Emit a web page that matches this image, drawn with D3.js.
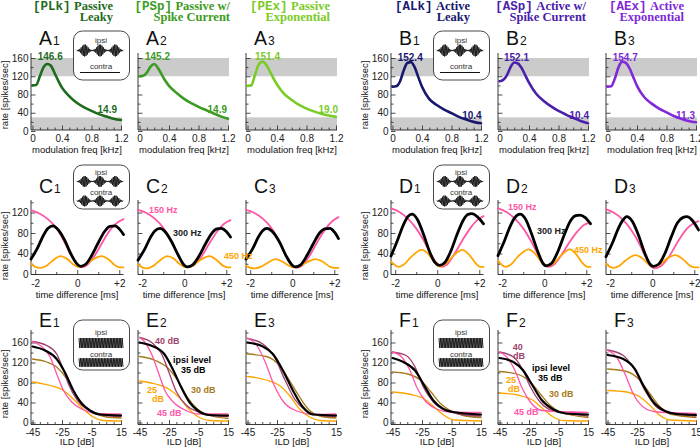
<!DOCTYPE html>
<meta charset="utf-8">
<style>
body { margin: 0; background: #fff; }
svg { display: block; }
</style>
<body>
<script src="https://d3js.org/d3.v7.min.js"></script>
<script>

var width = 700, height = 448;

// ---------- top row: rate vs modulation frequency ----------
var freqKHz = [0, 0.05, 0.1, 0.15, 0.2, 0.25, 0.3, 0.35, 0.4, 0.5, 0.6, 0.7, 0.8, 0.9, 1.0, 1.1, 1.2];
var rateA1 = [100, 101, 120, 140, 147, 143, 127, 110, 95, 76, 62, 52, 44, 37, 32, 27, 24];
var rateA2 = [120, 121, 128, 141, 147, 138, 124, 110, 99, 84, 71, 61, 53, 46, 39, 32, 27];
var rateA3 = [99, 100, 122, 145, 152, 146, 132, 116, 102, 81, 68, 57, 49, 43, 38, 34, 31];
var rateB1 = [97, 98, 108, 132, 149, 151, 140, 118, 97, 70, 57, 47, 39, 31, 25, 20, 17];
var rateB2 = [109, 112, 122, 140, 150, 148, 138, 122, 106, 81, 66, 54, 44, 36, 29, 22, 17];
var rateB3 = [97, 98, 115, 140, 152, 149, 137, 118, 99, 74, 60, 49, 41, 33, 27, 22, 19];
var targetBands = [[120, 160], [0, 30]];

var titleCodes = ["[PLk]", "[PSp]", "[PEx]", "[ALk]", "[ASp]", "[AEx]"];
var titleLine1 = ["Passive", "Passive w/", "Passive", "Active", "Active w/", "Active"];
var titleLine2 = ["Leaky", "Spike Current", "Exponential", "Leaky", "Spike Current", "Exponential"];
var peakLabels = ["146.6", "145.2", "151.4", "152.4", "152.1", "154.7"];
var endLabels = ["14.9", "14.9", "19.0", "10.4", "10.4", "11.3"];
var modelColors = ["#1e6b1e", "#3c9b22", "#7acb26", "#17176e", "#4a20aa", "#8029d8"];

// ---------- middle row: rate vs time difference [ms, rate] ----------
var c1_150 = [[-2.2,124],[-1.8,118],[-1.4,107],[-1.0,90],[-0.6,62],[-0.3,37],[0,19],[0.2,13],[0.45,17],[0.8,34],[1.2,62],[1.6,88],[1.9,100],[2.2,107]];
var c1_300 = [[-2.2,29],[-1.9,50],[-1.6,76],[-1.4,89],[-1.15,94],[-0.9,86],[-0.6,66],[-0.3,39],[0,19],[0.15,15],[0.4,19],[0.7,37],[1.0,61],[1.3,83],[1.55,93],[1.8,94],[2.0,88],[2.2,77]];
var c1_450 = [[-2.2,20],[-2.0,14],[-1.75,12],[-1.5,15],[-1.2,25],[-0.8,35],[-0.5,30],[-0.2,19],[0.05,14],[0.35,17],[0.7,27],[1.15,35],[1.5,28],[1.8,17],[2.0,13],[2.2,13]];
var c2_150 = [[-2.2,125],[-1.8,119],[-1.4,108],[-1.0,90],[-0.6,62],[-0.3,37],[0,18],[0.15,13],[0.4,16],[0.8,33],[1.2,60],[1.6,85],[1.9,98],[2.2,105]];
var c2_300 = [[-2.2,27],[-1.9,47],[-1.6,72],[-1.4,84],[-1.15,89],[-0.9,82],[-0.6,63],[-0.3,38],[0,17],[0.15,14],[0.4,18],[0.7,35],[1.0,58],[1.3,79],[1.55,88],[1.75,89],[2.0,83],[2.2,72]];
var c2_450 = [[-2.2,19],[-2.0,13],[-1.8,11],[-1.5,15],[-1.2,25],[-0.8,35],[-0.5,30],[-0.2,19],[0.1,13],[0.4,16],[0.75,27],[1.2,35],[1.55,27],[1.85,16],[2.05,13],[2.2,13]];
var c3_150 = [[-2.2,125],[-1.8,119],[-1.4,108],[-1.0,90],[-0.6,62],[-0.3,36],[0,17],[0.2,12],[0.45,16],[0.8,34],[1.2,63],[1.6,89],[1.9,103],[2.2,111]];
var c3_300 = [[-2.2,29],[-1.9,48],[-1.6,73],[-1.4,85],[-1.2,89],[-0.95,83],[-0.6,62],[-0.3,36],[0,17],[0.15,14],[0.4,18],[0.7,36],[1.0,59],[1.3,80],[1.55,88],[1.8,89],[2.0,82],[2.2,69]];
var c3_450 = [[-2.2,16],[-2.0,12],[-1.8,11],[-1.5,14],[-1.2,21],[-0.8,29],[-0.5,25],[-0.2,17],[0.05,13],[0.35,15],[0.7,23],[1.1,29],[1.45,24],[1.8,14],[2.0,12],[2.2,12]];
var d1_150 = [[-2.2,128],[-1.8,121],[-1.4,108],[-1.0,89],[-0.6,62],[-0.3,38],[0,20],[0.2,14],[0.45,18],[0.8,38],[1.2,66],[1.6,91],[1.9,105],[2.2,113]];
var d1_300 = [[-2.2,35],[-1.9,65],[-1.6,97],[-1.4,112],[-1.2,117],[-0.95,107],[-0.65,77],[-0.35,42],[-0.1,22],[0.1,17],[0.35,22],[0.65,45],[0.95,78],[1.25,106],[1.45,116],[1.65,118],[1.9,112],[2.2,98]];
var d1_450 = [[-2.2,24],[-2.0,17],[-1.85,14],[-1.6,18],[-1.25,33],[-0.75,47],[-0.4,38],[-0.15,23],[0.1,15],[0.4,20],[0.75,35],[1.2,47],[1.55,36],[1.85,20],[2.05,14],[2.2,14]];
var d2_150 = [[-2.2,128],[-1.8,121],[-1.4,108],[-1.0,89],[-0.6,62],[-0.3,38],[0,19],[0.2,14],[0.45,18],[0.8,36],[1.2,62],[1.6,84],[1.9,96],[2.2,100]];
var d2_300 = [[-2.2,36],[-1.9,64],[-1.6,95],[-1.4,110],[-1.15,117],[-0.9,108],[-0.6,78],[-0.3,43],[-0.05,20],[0.1,16],[0.35,21],[0.65,44],[0.95,76],[1.25,104],[1.5,114],[1.7,115],[1.95,110],[2.2,98]];
var d2_450 = [[-2.2,26],[-2.0,17],[-1.85,14],[-1.6,18],[-1.25,34],[-0.75,48],[-0.4,38],[-0.1,22],[0.15,16],[0.45,21],[0.8,36],[1.22,48],[1.55,37],[1.85,20],[2.05,14],[2.2,14]];
var d3_150 = [[-2.2,126],[-1.8,119],[-1.4,106],[-1.0,86],[-0.6,58],[-0.35,36],[-0.1,16],[0.1,11],[0.4,15],[0.8,34],[1.2,62],[1.6,86],[1.9,97],[2.2,103]];
var d3_300 = [[-2.2,34],[-1.9,60],[-1.6,90],[-1.4,105],[-1.22,112],[-0.95,103],[-0.65,75],[-0.35,40],[-0.1,19],[0.05,15],[0.3,19],[0.6,40],[0.9,72],[1.2,100],[1.45,110],[1.65,112],[1.9,105],[2.2,86]];
var d3_450 = [[-2.2,20],[-2.0,14],[-1.85,12],[-1.6,15],[-1.25,27],[-0.8,37],[-0.45,30],[-0.15,18],[0.05,14],[0.35,18],[0.7,30],[1.1,37],[1.45,29],[1.8,16],[2.0,13],[2.2,13]];
var toneLabels = ["150 Hz", "300 Hz", "450 Hz"];
var toneColors = ["#ff55a5", "#000000", "#ffa500"];

// ---------- bottom row: rate vs ILD [dB, rate] ----------
var e1_25 = [[-45,81],[-39,78],[-33,74],[-24,64],[-17.3,47],[-10.6,27],[-3.8,11],[2.9,4],[15,3]];
var e1_30 = [[-45,127],[-35.4,121],[-28.6,111],[-21.8,87],[-16.2,57],[-9.4,31],[-1.5,17],[5,11],[15,9]];
var e1_35 = [[-45,152],[-36.5,144],[-28.6,127],[-23,100],[-17.3,64],[-11.6,38],[-6,24],[0.8,16],[15,14]];
var e1_40 = [[-45,162],[-35.4,154],[-28.6,137],[-25,113],[-20.5,76],[-14.5,44],[-7.2,25],[0,16],[15,12]];
var e1_45 = [[-45,162],[-38.8,152],[-33,131],[-28.6,97],[-24,64],[-18.4,41],[-11.6,27],[-3.8,19],[5,17],[15,17]];
var e2_25 = [[-45,83],[-34.2,77],[-25.1,67],[-18.4,51],[-11.6,27],[-3.7,9],[3,4],[15,3]];
var e2_30 = [[-45,132],[-34.2,124],[-25.1,107],[-18.4,81],[-12.6,51],[-5.8,27],[1,15],[15,8]];
var e2_35 = [[-45,160],[-37.2,154],[-28.2,137],[-22.5,107],[-16.8,71],[-11.2,41],[-5.5,24],[2.4,15],[15,14]];
var e2_40 = [[-45,170],[-36.8,160],[-30,137],[-25.5,104],[-19.9,61],[-13.1,34],[-5.1,21],[5,14],[15,12]];
var e2_45 = [[-45,170],[-42.4,164],[-36.8,137],[-32.3,101],[-27.8,64],[-22.1,41],[-14.2,25],[-5.1,17],[15,17]];
var e3_25 = [[-45,92],[-32.3,85],[-23.3,74],[-16.5,54],[-9.7,27],[-2.9,11],[4,4],[15,3]];
var e3_30 = [[-45,137],[-32.3,132],[-23.3,114],[-16.5,84],[-9.7,51],[-2.9,24],[4,13],[15,9]];
var e3_35 = [[-45,160],[-34.6,152],[-27.8,137],[-21,104],[-14.2,64],[-7.5,31],[-0.7,16],[15,14]];
var e3_40 = [[-45,168],[-34.6,157],[-26.7,131],[-19.9,87],[-13.1,47],[-5.1,23],[3,15],[15,12]];
var e3_45 = [[-45,169],[-38.6,154],[-33,121],[-27.3,77],[-20.5,41],[-11.6,23],[-0.3,16],[15,17]];
var f1_25 = [[-45,61],[-32.5,56],[-23.4,47],[-16.7,31],[-9.9,14],[-3.1,5],[15,3]];
var f1_30 = [[-45,101],[-34.7,97],[-25.7,84],[-18.9,61],[-12.1,37],[-5.3,23],[3,14],[15,10]];
var f1_35 = [[-45,129],[-37.6,121],[-29.7,104],[-24.1,77],[-17.3,44],[-10.6,27],[-3.8,21],[15,16]];
var f1_40 = [[-45,141],[-35.8,134],[-29.7,111],[-24.1,71],[-17.3,41],[-9.3,25],[0,17],[15,13]];
var f1_45 = [[-45,141],[-38.8,131],[-33.1,104],[-28.6,71],[-23,44],[-15,27],[-6,21],[15,20]];
var f2_25 = [[-45,59],[-31.1,54],[-22.1,44],[-15.3,27],[-8.5,11],[-1.7,4],[15,3]];
var f2_30 = [[-45,102],[-33.3,97],[-24.1,81],[-17.3,57],[-10.5,34],[-3.7,21],[15,10]];
var f2_35 = [[-45,129],[-35.6,121],[-28.9,104],[-23.2,77],[-16.4,45],[-8.5,26],[0,18],[15,16]];
var f2_40 = [[-45,141],[-35.6,131],[-29.5,107],[-24,71],[-17.5,41],[-8.5,23],[15,13]];
var f2_45 = [[-45,141],[-40.1,131],[-34.5,104],[-30,71],[-24.1,41],[-16.4,24],[15,20]];
var f3_25 = [[-45,64],[-32,61],[-22.9,51],[-16.1,34],[-9.3,14],[-2.5,5],[15,3]];
var f3_30 = [[-45,107],[-31.9,102],[-22.9,84],[-16.1,57],[-9.3,31],[-2.5,17],[15,10]];
var f3_35 = [[-45,135],[-34.3,127],[-26.4,107],[-20.7,74],[-13.9,41],[-6,23],[2,17],[15,15]];
var f3_40 = [[-45,145],[-34.3,134],[-26.4,104],[-19.6,64],[-12.8,34],[-4.9,21],[15,13]];
var f3_45 = [[-45,144],[-38.8,131],[-33.1,97],[-27.5,57],[-20.7,31],[-11.6,21],[15,18]];
var levelColors = {25: "#ffa500", 30: "#a67a1a", 35: "#000000", 40: "#9e3f6d", 45: "#ff55aa"};

// ---------- layout ----------
var panelX = [31, 138, 246, 391, 498, 606];
var panelNum = ["1", "2", "3", "1", "2", "3"];
var titleRight = [82, 92, 84, 79, 88, 78];
var sans = "Liberation Sans, Arial, sans-serif";
var serif = "Liberation Serif, Times New Roman, serif";
var mono = "Liberation Mono, Courier New, monospace";

var rows = {
  top: {xDom: [0, 1.2], xR: [1.5, 90], right: 91, yDom: [0, 160], yR: [131, 58], bottom: 130, top: 53,
        xMajor: [0, 0.4, 0.8, 1.2], xMinor: [0.1, 0.2, 0.3, 0.5, 0.6, 0.7, 0.9, 1.0, 1.1],
        yMajor: [0, 40, 80, 120, 160], yMinor: [20, 60, 100, 140], pad: 4.5,
        fmt: d => d === 0 ? "0" : d.toFixed(1), xTitle: "modulation freq [kHz]", xTitleY: 152.5, yTitleY: 95,
        letterY: 45, letters: ["A", "A", "A", "B", "B", "B"], box: [31, 80]},
  mid: {xDom: [-2.2, 2.2], xR: [0, 92.5], right: 92.5, yDom: [0, 120], yR: [274, 212.5], bottom: 274.5, top: 200,
        xMajor: [-2, 0, 2], xMinor: [-1, 1], yMajor: [0, 40, 80, 120], yMinor: [20, 60, 100, 140], pad: 5,
        fmt: d => d > 0 ? "+" + d : String(d), xTitle: "time difference [ms]", xTitleY: 297.5, yTitleY: 246,
        letterY: 193, letters: ["C", "C", "C", "D", "D", "D"], box: [165, 209]},
  bot: {xDom: [-45, 15], xR: [1.5, 90], right: 91, yDom: [0, 160], yR: [422.5, 342.5], bottom: 424.5, top: 330,
        xMajor: [-45, -25, -5, 15], xMinor: [-40, -35, -30, -20, -15, -10, 0, 5, 10],
        yMajor: [0, 40, 80, 120, 160], yMinor: [20, 60, 100, 140, 180], pad: 4,
        fmt: d => String(d), xTitle: "ILD [dB]", xTitleY: 445, yTitleY: 384,
        letterY: 327, letters: ["E", "E", "E", "F", "F", "F"], box: [320, 370]}
};

var svg = d3.select("body").append("svg")
    .attr("width", width)
    .attr("height", height)
    .attr("font-family", sans);

function scales(row, i) {
  var X0 = panelX[i];
  return {
    x: d3.scaleLinear().domain(row.xDom).range([X0 + row.xR[0], X0 + row.xR[1]]),
    y: d3.scaleLinear().domain(row.yDom).range(row.yR)
  };
}

function drawAxes(g, row, i, s) {
  var X0 = panelX[i];
  var first = (i === 0 || i === 3);

  var xMin = g.append("g").attr("transform", `translate(0,${row.bottom})`)
      .call(d3.axisBottom(s.x).tickValues(row.xMinor).tickSize(-2.5).tickFormat(""));
  var xMaj = g.append("g").attr("transform", `translate(0,${row.bottom})`)
      .call(d3.axisBottom(s.x).tickValues(row.xMajor).tickSize(-4.5).tickPadding(row.pad).tickFormat(row.fmt));
  var yMin = g.append("g").attr("transform", `translate(${X0},0)`)
      .call(d3.axisLeft(s.y).tickValues(row.yMinor.filter(v => s.y(v) >= row.top)).tickSize(-2.5).tickFormat(""));
  var yMaj = g.append("g").attr("transform", `translate(${X0},0)`)
      .call(d3.axisLeft(s.y).tickValues(row.yMajor).tickSize(-4.5).tickPadding(2.5)
        .tickFormat(first ? d => String(d) : ""));

  [xMin, xMaj, yMin, yMaj].forEach(a => {
    a.select(".domain").remove();
    a.attr("font-family", sans).attr("font-size", 10).attr("color", "#222");
    a.selectAll(".tick line").attr("stroke-width", 0.8);
  });

  g.append("line").attr("x1", X0).attr("x2", X0 + row.right)
      .attr("y1", row.bottom).attr("y2", row.bottom).attr("stroke", "#222").attr("stroke-width", 0.9);
  g.append("line").attr("x1", X0).attr("x2", X0)
      .attr("y1", row.bottom).attr("y2", row.top).attr("stroke", "#222").attr("stroke-width", 0.9);

  g.append("text").attr("x", X0 + 46).attr("y", row.xTitleY)
      .attr("text-anchor", "middle").attr("font-size", 9.5).attr("fill", "#111").text(row.xTitle);

  if (first) {
    g.append("text").attr("transform", `translate(${X0 - 23.5},${row.yTitleY}) rotate(-90)`)
        .attr("text-anchor", "middle").attr("font-size", 9.5).attr("fill", "#111").text("rate [spikes/sec]");
  }

  var lab = g.append("text").attr("x", X0 + 8).attr("y", row.letterY).attr("fill", "#111");
  lab.append("tspan").attr("font-size", 19.5).text(row.letters[i]);
  lab.append("tspan").attr("font-size", 12).attr("dx", 1).text(panelNum[i]);
}

// ---------- inset stimulus sketches ----------
function amWave(x1, x2, cy, amp) {
  var n = Math.round((x2 - x1) / 0.7);
  return d3.range(n + 1).map(k => {
    var u = k / n;
    var e = 0.1 + 0.9 * Math.pow((1 - Math.cos(6 * Math.PI * u)) / 2, 1.4);
    return [x1 + u * (x2 - x1), cy + (k % 2 ? 1 : -1) * amp * e];
  });
}

function toneBand(x1, x2, cy, amp) {
  var n = Math.round((x2 - x1) / 0.75);
  return d3.range(n + 1).map(k => [x1 + k * (x2 - x1) / n, cy + (k % 2 ? 1 : -1) * amp]);
}

var waveLine = d3.line();

function drawInset(g, row, i, kind) {
  var X0 = panelX[i];
  var y1 = row.box[0], y2 = row.box[1];
  g.append("rect").attr("x", X0 + 42.5).attr("y", y1).attr("width", 56).attr("height", y2 - y1)
      .attr("rx", 9).attr("fill", "#fff").attr("stroke", "#333").attr("stroke-width", 0.9);
  var ink = "#111";
  function lbl(t, y) {
    g.append("text").attr("x", X0 + 70).attr("y", y).attr("text-anchor", "middle")
        .attr("font-size", 8).attr("fill", "#333").text(t);
  }
  function wave(pts, w) {
    g.append("path").attr("d", waveLine(pts)).attr("fill", "none").attr("stroke", ink).attr("stroke-width", w);
  }
  if (kind === "top") {
    lbl("ipsi", y1 + 11.5);
    wave(amWave(X0 + 46, X0 + 92, y1 + 19.5, 6), 0.9);
    lbl("contra", y1 + 37.5);
    g.append("line").attr("x1", X0 + 49).attr("x2", X0 + 89).attr("y1", y1 + 41.5).attr("y2", y1 + 41.5)
        .attr("stroke", ink).attr("stroke-width", 1);
  } else if (kind === "mid") {
    lbl("ipsi", y1 + 9.5);
    wave(amWave(X0 + 46, X0 + 92, y1 + 16.5, 5.5), 0.9);
    lbl("contra", y1 + 29.5);
    wave(amWave(X0 + 46, X0 + 92, y1 + 36, 5.5), 0.9);
  } else {
    lbl("ipsi", y1 + 15);
    wave(toneBand(X0 + 48, X0 + 92, y1 + 23, 5), 0.9);
    lbl("contra", y1 + 36.5);
    wave(toneBand(X0 + 48, X0 + 92, y1 + 42.5, 4.3), 0.9);
  }
}

function curve(g, s, pts, color, w) {
  var line = d3.line().x(d => s.x(d[0])).y(d => s.y(d[1])).curve(d3.curveMonotoneX);
  g.append("path").datum(pts).attr("d", line)
      .attr("fill", "none").attr("stroke", color).attr("stroke-width", w)
      .attr("stroke-linejoin", "round").attr("stroke-linecap", "round");
}

// ---------- top row ----------
var topRates = [rateA1, rateA2, rateA3, rateB1, rateB2, rateB3];
topRates.forEach(function(rates, i) {
  var row = rows.top, s = scales(row, i), X0 = panelX[i];
  var g = svg.append("g");

  g.selectAll("rect.band").data(targetBands).enter().append("rect")
      .attr("x", X0).attr("width", row.right)
      .attr("y", d => s.y(d[1]))
      .attr("height", d => Math.min(row.bottom, s.y(d[0])) - s.y(d[1]))
      .attr("fill", "#cbcbcb");

  drawAxes(g, row, i, s);
  if (i === 0 || i === 3) drawInset(g, row, i, "top");

  curve(g, s, freqKHz.map((f, j) => [f, rates[j]]), modelColors[i], 2.6);

  // two-line model title, right aligned: mono code + serif name
  var c = modelColors[i], xr = X0 + titleRight[i];
  var name1 = g.append("text").attr("x", xr).attr("y", 9.5)
      .attr("text-anchor", "end").attr("fill", c).attr("font-weight", "bold").attr("font-size", 12.5)
      .attr("font-family", serif).text(titleLine1[i]);
  var w1 = name1.node().getComputedTextLength();
  g.append("text").attr("x", xr - w1 - 3.5).attr("y", 9.5)
      .attr("text-anchor", "end").attr("fill", c).attr("font-weight", "bold").attr("font-size", 12.5)
      .attr("font-family", mono).text(titleCodes[i]);
  g.append("text").attr("x", xr).attr("y", 20.5)
      .attr("text-anchor", "end").attr("fill", c).attr("font-weight", "bold").attr("font-size", 12.5)
      .attr("font-family", serif).text(titleLine2[i]);

  var active = i >= 3;
  var peakDx = [6.7, 7, 9, 6.7, 6, 6.7], endDx = [86, 89, 92, 90.7, 91, 89];
  g.append("text").attr("x", X0 + peakDx[i]).attr("y", active ? 61 : 59.5)
      .attr("fill", c).attr("font-weight", "bold").attr("font-size", 10).text(peakLabels[i]);
  g.append("text").attr("x", X0 + endDx[i]).attr("y", active ? 119 : 113).attr("text-anchor", "end")
      .attr("fill", c).attr("font-weight", "bold").attr("font-size", 10).text(endLabels[i]);
});

// ---------- middle row ----------
var midSets = [[c1_150, c1_300, c1_450], [c2_150, c2_300, c2_450], [c3_150, c3_300, c3_450],
               [d1_150, d1_300, d1_450], [d2_150, d2_300, d2_450], [d3_150, d3_300, d3_450]];
midSets.forEach(function(set, i) {
  var row = rows.mid, s = scales(row, i);
  var g = svg.append("g");
  drawAxes(g, row, i, s);
  if (i === 0 || i === 3) drawInset(g, row, i, "mid");
  curve(g, s, set[0], toneColors[0], 1.8);
  curve(g, s, set[2], toneColors[2], 1.8);
  curve(g, s, set[1], toneColors[1], 2.8);
});

// tone labels (panels C2 and D2)
var toneLabelPos = [[[149, 212.5], [173, 235.5], [224, 258.5]], [[508, 210], [537, 234], [574, 252.5]]];
toneLabelPos.forEach(function(pos) {
  pos.forEach(function(p, k) {
    svg.append("text").attr("x", p[0]).attr("y", p[1]).attr("fill", k === 1 ? "#222" : toneColors[k])
        .attr("font-weight", "bold").attr("font-size", 9).text(toneLabels[k]);
  });
});

// ---------- bottom row ----------
var botSets = [[e1_25, e1_30, e1_40, e1_45, e1_35], [e2_25, e2_30, e2_40, e2_45, e2_35], [e3_25, e3_30, e3_40, e3_45, e3_35],
               [f1_25, f1_30, f1_40, f1_45, f1_35], [f2_25, f2_30, f2_40, f2_45, f2_35], [f3_25, f3_30, f3_40, f3_45, f3_35]];
var botLevels = [25, 30, 40, 45, 35];
botSets.forEach(function(set, i) {
  var row = rows.bot, s = scales(row, i);
  var g = svg.append("g");
  drawAxes(g, row, i, s);
  if (i === 0 || i === 3) drawInset(g, row, i, "bot");
  set.forEach(function(pts, k) {
    var lv = botLevels[k];
    curve(g, s, pts, levelColors[lv], lv === 35 ? 2.2 : 1.3);
  });
});

// level labels (panels E2 and F2): [text, level, x, baseline]
var levelLabelsE = [["40 dB", 40, 155, 344], ["ipsi level", 35, 173, 362.7], ["35 dB", 35, 181, 372.5],
                    ["25", 25, 147, 392.7], ["dB", 25, 152, 401.7], ["30 dB", 30, 191, 392.7], ["45 dB", 45, 157, 416]];
var levelLabelsF = [["40", 40, 512.7, 349.5], ["dB", 40, 513, 358.5], ["ipsi level", 35, 532, 370.7], ["35 dB", 35, 538, 380.7],
                    ["25", 25, 506, 382.7], ["dB", 25, 508, 392.4], ["30 dB", 30, 549, 396.7], ["45 dB", 45, 514, 415]];
levelLabelsE.concat(levelLabelsF).forEach(function(d) {
  svg.append("text").attr("x", d[2]).attr("y", d[3]).attr("fill", levelColors[d[1]])
      .attr("font-weight", "bold").attr("font-size", 9).text(d[0]);
});

</script>
</body>
